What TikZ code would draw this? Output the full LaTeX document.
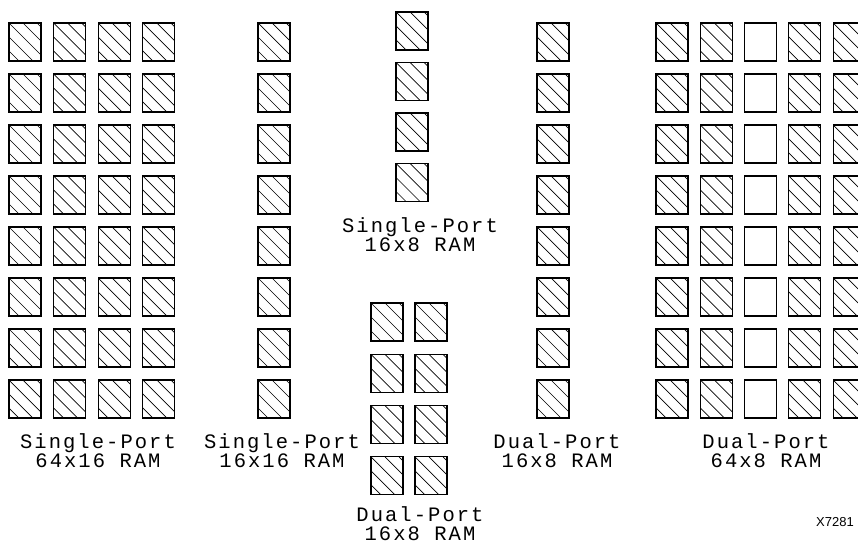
\documentclass[tikz,border=0pt]{standalone}
\usepackage{fontspec}
\usepackage{tikz}
\newfontfamily\ramfont[LetterSpace=10]{Liberation Mono}
\newfontfamily\tagfont{Liberation Sans}
\tikzset{
    cellbox/.style={draw=black, line width=1.1pt},
    hatchline/.style={draw=black, line width=0.7pt},
    ramlabel/.style={font=\ramfont\fontsize{20.5}{19}\selectfont, align=center, inner sep=0pt, anchor=base},
    tagtext/.style={font=\tagfont\fontsize{13}{15}\selectfont, inner sep=0pt, anchor=base east},
}
% one RAM cell: hatched box with its top-left corner at (#1,#2)
\newcommand\ramcell[2]{%
  \begin{scope}
    \clip (#1,#2) rectangle ++(32,38);
    \foreach \c in {-28,-14,0,14,28}
      \draw[hatchline] (#1+\c,#2) -- ++(42,42);
  \end{scope}
  \draw[cellbox] (#1,#2) rectangle ++(32,38);}
% empty cell
\newcommand\ramhole[2]{\draw[cellbox] (#1,#2) rectangle ++(32,38);}

\begin{document}
\begin{tikzpicture}[x=1pt, y=-1pt]
\useasboundingbox (0,0) rectangle (858,543);
\clip (0,0) rectangle (858,543);

% single-port 64x16
\foreach \i in {0,...,3}
  \foreach \j in {0,...,7}
    \ramcell{9+44.6*\i}{23+51*\j};
% single-port 16x16
\foreach \j in {0,...,7}
  \ramcell{258}{23+51*\j};
% single-port 16x8
\foreach \j in {0,...,3}
  \ramcell{396}{12+50.5*\j};
% dual-port 16x8, pair
\foreach \i in {0,1}
  \foreach \j in {0,...,3}
    \ramcell{371+44*\i}{303+51.3*\j};
% dual-port 16x8, column
\foreach \j in {0,...,7}
  \ramcell{537}{23+51*\j};
% dual-port 64x8
\foreach \i in {0,1,3,4}
  \foreach \j in {0,...,7}
    \ramcell{656+44.3*\i}{23+51*\j};
\foreach \j in {0,...,7}
  \ramhole{656+44.3*2}{23+51*\j};

\node[ramlabel] (sp64) at (98,467) {Single-Port\\64x16 RAM};
\node[ramlabel] (sp16) at (282,467) {Single-Port\\16x16 RAM};
\node[ramlabel] (sp8) at (420,251) {Single-Port\\16x8 RAM};
\node[ramlabel] (dp8a) at (420,540.5) {Dual-Port\\16x8 RAM};
\node[ramlabel] (dp8b) at (557,467) {Dual-Port\\16x8 RAM};
\node[ramlabel] (dp64) at (766,467) {Dual-Port\\64x8 RAM};
\node[tagtext] (tag) at (854,526) {X7281};
\end{tikzpicture}
\end{document}
